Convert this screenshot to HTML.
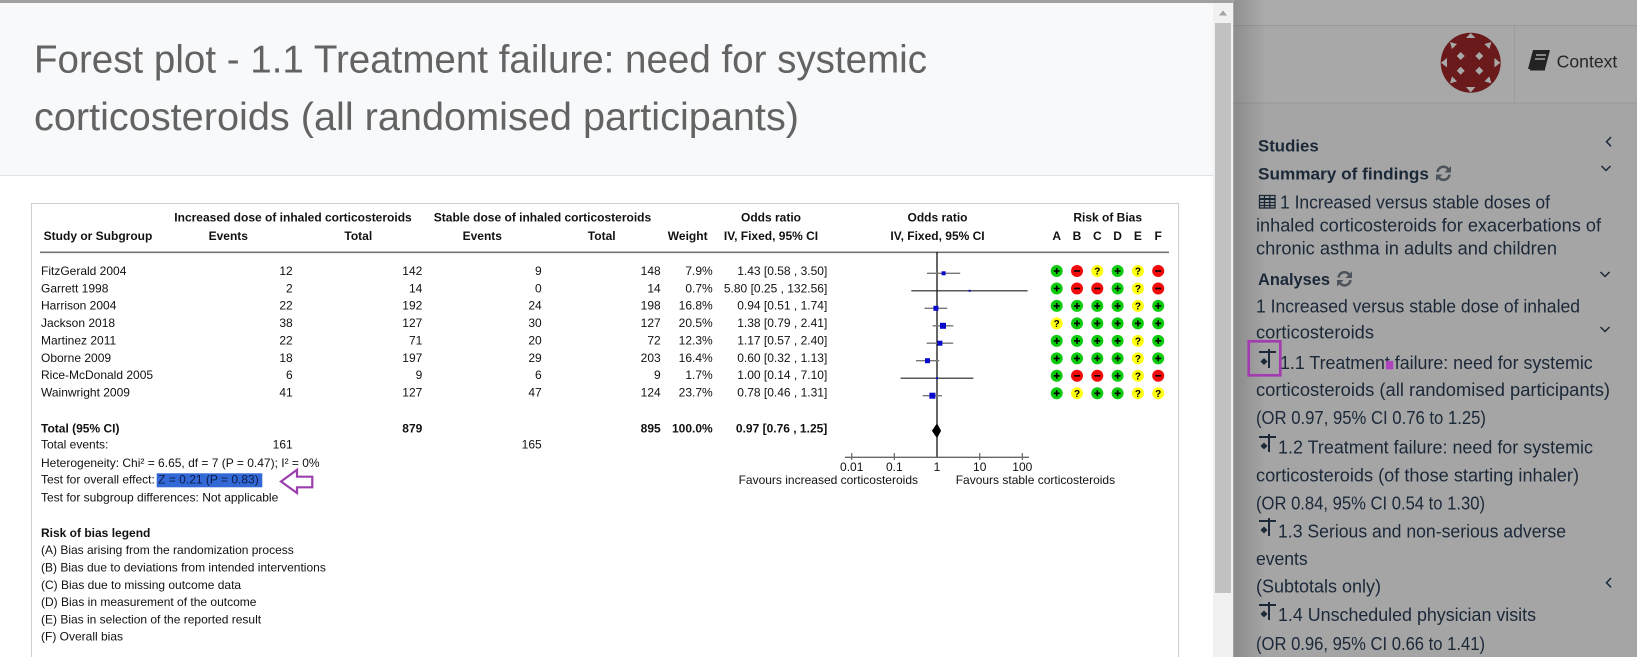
<!DOCTYPE html>
<html><head><meta charset="utf-8"><style>
html,body{margin:0;padding:0;width:1637px;height:657px;overflow:hidden;background:#fff}
svg{display:block}
text{font-family:"Liberation Sans",Arial,sans-serif}
</style></head><body>
<svg width="1637" height="657" viewBox="0 0 1637 657" xmlns="http://www.w3.org/2000/svg">
<defs>
<linearGradient id="sh" x1="0" x2="1" y1="0" y2="0">
<stop offset="0" stop-color="#000" stop-opacity="0.16"/><stop offset="1" stop-color="#000" stop-opacity="0"/>
</linearGradient>
<g id="G"><circle r="6" fill="#0ccb0c"/><path d="M-3 0H3M0 -3V3" stroke="#000" stroke-width="1.6"/></g>
<g id="R"><circle r="6" fill="#f00a0a"/><path d="M-3 0H3" stroke="#000" stroke-width="1.6"/></g>
<g id="Y"><circle r="6" fill="#ffff10"/></g>
</defs>

<!-- sidebar -->
<rect x="1233" y="0" width="404" height="657" fill="#a5a5a5"/>
<rect x="1233" y="0" width="404" height="25" fill="#ababab"/>
<rect x="1233" y="26" width="404" height="77" fill="#a8a8a8"/>
<line x1="1233" y1="25.5" x2="1637" y2="25.5" stroke="#9a9a9a"/>
<line x1="1233" y1="103" x2="1637" y2="103" stroke="#999"/>
<line x1="1514.5" y1="26" x2="1514.5" y2="103" stroke="#9c9c9c"/>
<rect x="1234" y="0" width="32" height="657" fill="url(#sh)"/>

<!-- logo -->
<circle cx="1470.7" cy="62.7" r="30" fill="#6a1a1a"/>
<g fill="#a8a8a8">
<polygon points="1460.7,52 1464.7,56 1460.7,60 1456.7,56"/>
<polygon points="1479.3,52 1483.3,56 1479.3,60 1475.3,56"/>
<polygon points="1460.7,66.7 1464.7,70.7 1460.7,74.7 1456.7,70.7"/>
<polygon points="1479.3,66.7 1483.3,70.7 1479.3,74.7 1475.3,70.7"/>
<polygon points="1470.7,33 1466,38 1475.4,38"/>
<polygon points="1470.7,92.4 1466,87 1475.4,87"/>
<polygon points="1441,62.7 1447,58 1447,67.4"/>
<polygon points="1500.4,62.7 1494.4,58 1494.4,67.4"/>
<polygon points="1450,42 1457,44 1452,49"/>
<polygon points="1491.4,42 1484.4,44 1489.4,49"/>
<polygon points="1450,83.4 1457,81.4 1452,76.4"/>
<polygon points="1491.4,83.4 1484.4,81.4 1489.4,76.4"/>
</g>
<!-- book icon -->
<polygon points="1533,50 1550,50 1545,69 1528,69" fill="#232323"/>
<line x1="1530" y1="69.5" x2="1545" y2="69.5" stroke="#232323" stroke-width="2"/>
<line x1="1536" y1="55" x2="1546" y2="55" stroke="#a8a8a8" stroke-width="1.5"/>
<line x1="1535" y1="59" x2="1545" y2="59" stroke="#a8a8a8" stroke-width="1.5"/>
<text x="1556.7" y="67.7" font-size="17.5" fill="#262626" textLength="60.6" lengthAdjust="spacingAndGlyphs">Context</text>

<!-- sidebar text -->
<g fill="#1b2838" font-size="18">
<text x="1258" y="151.7" font-weight="bold" font-size="17" textLength="60.7" lengthAdjust="spacingAndGlyphs">Studies</text>
<text x="1258" y="179.3" font-weight="bold" font-size="17" textLength="171" lengthAdjust="spacingAndGlyphs">Summary of findings</text>
<text x="1280" y="208.3" textLength="270" lengthAdjust="spacingAndGlyphs">1 Increased versus stable doses of</text>
<text x="1256" y="231.7" textLength="345" lengthAdjust="spacingAndGlyphs">inhaled corticosteroids for exacerbations of</text>
<text x="1256" y="254.3" textLength="301" lengthAdjust="spacingAndGlyphs">chronic asthma in adults and children</text>
<text x="1258" y="285" font-weight="bold" font-size="17" textLength="72" lengthAdjust="spacingAndGlyphs">Analyses</text>
<text x="1256" y="312.3" textLength="324" lengthAdjust="spacingAndGlyphs">1 Increased versus stable dose of inhaled</text>
<text x="1256" y="338.3" textLength="118" lengthAdjust="spacingAndGlyphs">corticosteroids</text>
<text x="1280" y="369" textLength="312.7" lengthAdjust="spacingAndGlyphs">1.1 Treatment failure: need for systemic</text>
<text x="1256" y="396" textLength="354" lengthAdjust="spacingAndGlyphs">corticosteroids (all randomised participants)</text>
<text x="1256" y="424" textLength="230" lengthAdjust="spacingAndGlyphs">(OR 0.97, 95% CI 0.76 to 1.25)</text>
<text x="1278" y="453.3" textLength="315" lengthAdjust="spacingAndGlyphs">1.2 Treatment failure: need for systemic</text>
<text x="1256" y="481.7" textLength="323" lengthAdjust="spacingAndGlyphs">corticosteroids (of those starting inhaler)</text>
<text x="1256" y="509.3" textLength="229" lengthAdjust="spacingAndGlyphs">(OR 0.84, 95% CI 0.54 to 1.30)</text>
<text x="1278" y="537.3" textLength="288" lengthAdjust="spacingAndGlyphs">1.3 Serious and non-serious adverse</text>
<text x="1256" y="565" textLength="51.7" lengthAdjust="spacingAndGlyphs">events</text>
<text x="1256" y="592.7" textLength="125" lengthAdjust="spacingAndGlyphs">(Subtotals only)</text>
<text x="1278" y="621" textLength="258" lengthAdjust="spacingAndGlyphs">1.4 Unscheduled physician visits</text>
<text x="1256" y="650" textLength="229" lengthAdjust="spacingAndGlyphs">(OR 0.96, 95% CI 0.66 to 1.41)</text>
</g>
<!-- table icon -->
<g stroke="#1b2838" fill="none" stroke-width="1.3">
<rect x="1259.5" y="195.5" width="15.5" height="12.5"/>
<line x1="1259.5" y1="199" x2="1275" y2="199" stroke-width="2"/>
<line x1="1259.5" y1="202.5" x2="1275" y2="202.5"/>
<line x1="1259.5" y1="205.5" x2="1275" y2="205.5"/>
<line x1="1264.5" y1="195.5" x2="1264.5" y2="208"/>
<line x1="1269.8" y1="195.5" x2="1269.8" y2="208"/>
</g>
<!-- refresh icons -->
<g stroke="#4d535b" fill="none" stroke-width="2.6">
<path d="M1437.5 172 A6 6 0 0 1 1448.5 169.5"/>
<path d="M1449.5 174.6 A6 6 0 0 1 1438.5 177.1"/>
<path d="M1338.5 277.5 A6 6 0 0 1 1349.5 275"/>
<path d="M1350.5 280.1 A6 6 0 0 1 1339.5 282.6"/>
</g>
<g fill="#4d535b">
<polygon points="1451,166 1451,172.5 1444.5,172.5"/>
<polygon points="1436,181 1436,174.5 1442.5,174.5"/>
<polygon points="1352,271.5 1352,278 1345.5,278"/>
<polygon points="1337,286.5 1337,280 1343.5,280"/>
</g>
<!-- chevrons -->
<g stroke="#1b2838" fill="none" stroke-width="1.5">
<polyline points="1611,137 1606.5,141.7 1611,146.4"/>
<polyline points="1601.5,166 1606,170.5 1610.5,166"/>
<polyline points="1600.5,272 1605,276.5 1609.5,272"/>
<polyline points="1600.5,327 1605,331.5 1609.5,327"/>
<polyline points="1611,578 1606.5,582.7 1611,587.4"/>
</g>
<!-- forest icons -->
<g stroke="#1b2838" stroke-width="2" fill="#1b2838">
<line x1="1259" y1="352" x2="1276" y2="352"/><line x1="1269" y1="349" x2="1269" y2="368"/><polygon points="1264,358 1267.5,361.5 1264,365 1260.5,361.5" stroke="none"/>
<line x1="1259" y1="437" x2="1276" y2="437"/><line x1="1269" y1="434" x2="1269" y2="452"/><polygon points="1264,442.5 1267.5,446 1264,449.5 1260.5,446" stroke="none"/>
<line x1="1259" y1="521" x2="1276" y2="521"/><line x1="1269" y1="518" x2="1269" y2="536"/><polygon points="1264,526.5 1267.5,530 1264,533.5 1260.5,530" stroke="none"/>
<line x1="1259" y1="605" x2="1276" y2="605"/><line x1="1269" y1="602" x2="1269" y2="620"/><polygon points="1264,610.5 1267.5,614 1264,617.5 1260.5,614" stroke="none"/>
</g>
<rect x="1248.7" y="341.3" width="31.6" height="34" fill="none" stroke="#a23cb0" stroke-width="2.7"/>
<rect x="1386" y="361" width="7.3" height="8.3" fill="#b044bf"/>

<!-- modal -->
<rect x="0" y="0" width="1233" height="657" fill="#fff"/>
<rect x="0" y="0" width="1233" height="3" fill="#a0a0a0"/>
<rect x="0" y="3" width="1213" height="172" fill="#f8f9fa"/>
<line x1="0" y1="175.5" x2="1213" y2="175.5" stroke="#dee2e6"/>
<rect x="1213" y="3" width="20" height="654" fill="#f1f1f1"/>
<rect x="1215" y="23" width="16" height="570" fill="#c1c1c1"/>
<polygon points="1219,15.5 1227,15.5 1223,10.5" fill="#a3a3a3"/>

<text x="34" y="72.7" font-size="38.5" fill="#636363" textLength="893" lengthAdjust="spacingAndGlyphs">Forest plot - 1.1 Treatment failure: need for systemic</text>
<text x="34" y="130" font-size="38.5" fill="#636363" textLength="765" lengthAdjust="spacingAndGlyphs">corticosteroids (all randomised participants)</text>

<!-- forest box -->
<rect x="31.5" y="203.5" width="1147" height="470" fill="none" stroke="#cfcfcf"/>
<line x1="40" y1="252.3" x2="1169" y2="252.3" stroke="#777" stroke-width="1.6"/>

<g font-size="12" fill="#111">
<g font-weight="bold" text-anchor="middle">
<text x="293" y="221.3">Increased dose of inhaled corticosteroids</text>
<text x="542.5" y="221.3">Stable dose of inhaled corticosteroids</text>
<text x="771" y="221.3">Odds ratio</text>
<text x="937.5" y="221.3">Odds ratio</text>
<text x="1107.7" y="221.3">Risk of Bias</text>
<text x="228.3" y="240">Events</text>
<text x="358.3" y="240">Total</text>
<text x="482.3" y="240">Events</text>
<text x="601.7" y="240">Total</text>
<text x="687.7" y="240">Weight</text>
<text x="771" y="240">IV, Fixed, 95% CI</text>
<text x="937.5" y="240">IV, Fixed, 95% CI</text>
<text x="1056.7" y="240">A</text>
<text x="1077" y="240">B</text>
<text x="1097.3" y="240">C</text>
<text x="1117.6" y="240">D</text>
<text x="1137.9" y="240">E</text>
<text x="1158.2" y="240">F</text>
<text x="98" y="240" text-anchor="middle">Study or Subgroup</text>
</g>

<g>
<text x="41" y="275">FitzGerald 2004</text>
<text x="41" y="292.35">Garrett 1998</text>
<text x="41" y="309.7">Harrison 2004</text>
<text x="41" y="327.05">Jackson 2018</text>
<text x="41" y="344.4">Martinez 2011</text>
<text x="41" y="361.75">Oborne 2009</text>
<text x="41" y="379.1">Rice-McDonald 2005</text>
<text x="41" y="396.45">Wainwright 2009</text>
</g>
<g text-anchor="end">
<text x="292.7" y="275">12</text><text x="422.3" y="275">142</text><text x="541.7" y="275">9</text><text x="660.7" y="275">148</text><text x="712.7" y="275">7.9%</text><text x="827.3" y="275">1.43 [0.58 , 3.50]</text>
<text x="292.7" y="292.35">2</text><text x="422.3" y="292.35">14</text><text x="541.7" y="292.35">0</text><text x="660.7" y="292.35">14</text><text x="712.7" y="292.35">0.7%</text><text x="827.3" y="292.35">5.80 [0.25 , 132.56]</text>
<text x="292.7" y="309.7">22</text><text x="422.3" y="309.7">192</text><text x="541.7" y="309.7">24</text><text x="660.7" y="309.7">198</text><text x="712.7" y="309.7">16.8%</text><text x="827.3" y="309.7">0.94 [0.51 , 1.74]</text>
<text x="292.7" y="327.05">38</text><text x="422.3" y="327.05">127</text><text x="541.7" y="327.05">30</text><text x="660.7" y="327.05">127</text><text x="712.7" y="327.05">20.5%</text><text x="827.3" y="327.05">1.38 [0.79 , 2.41]</text>
<text x="292.7" y="344.4">22</text><text x="422.3" y="344.4">71</text><text x="541.7" y="344.4">20</text><text x="660.7" y="344.4">72</text><text x="712.7" y="344.4">12.3%</text><text x="827.3" y="344.4">1.17 [0.57 , 2.40]</text>
<text x="292.7" y="361.75">18</text><text x="422.3" y="361.75">197</text><text x="541.7" y="361.75">29</text><text x="660.7" y="361.75">203</text><text x="712.7" y="361.75">16.4%</text><text x="827.3" y="361.75">0.60 [0.32 , 1.13]</text>
<text x="292.7" y="379.1">6</text><text x="422.3" y="379.1">9</text><text x="541.7" y="379.1">6</text><text x="660.7" y="379.1">9</text><text x="712.7" y="379.1">1.7%</text><text x="827.3" y="379.1">1.00 [0.14 , 7.10]</text>
<text x="292.7" y="396.45">41</text><text x="422.3" y="396.45">127</text><text x="541.7" y="396.45">47</text><text x="660.7" y="396.45">124</text><text x="712.7" y="396.45">23.7%</text><text x="827.3" y="396.45">0.78 [0.46 , 1.31]</text>
<g font-weight="bold">
<text x="422.3" y="432.6">879</text><text x="660.7" y="432.6">895</text><text x="712.7" y="432.6">100.0%</text><text x="827.3" y="432.6">0.97 [0.76 , 1.25]</text>
</g>
<text x="292.7" y="448.7">161</text>
<text x="541.7" y="448.7">165</text>
<text x="918" y="484">Favours increased corticosteroids</text>
</g>
<text x="41" y="432.6" font-weight="bold">Total (95% CI)</text>
<text x="41" y="448.7">Total events:</text>
<text x="41" y="467">Heterogeneity: Chi² = 6.65, df = 7 (P = 0.47); I² = 0%</text>
<rect x="156.7" y="473.3" width="105.6" height="14" fill="#3269d6"/>
<text x="41" y="483.6">Test for overall effect:<tspan fill="#0b1a44"> Z = 0.21 (P = 0.83)</tspan></text>
<text x="41" y="501.4">Test for subgroup differences: Not applicable</text>
<text x="41" y="536.8" font-weight="bold">Risk of bias legend</text>
<text x="41" y="554.2">(A) Bias arising from the randomization process</text>
<text x="41" y="571.5">(B) Bias due to deviations from intended interventions</text>
<text x="41" y="588.8">(C) Bias due to missing outcome data</text>
<text x="41" y="606.1">(D) Bias in measurement of the outcome</text>
<text x="41" y="623.4">(E) Bias in selection of the reported result</text>
<text x="41" y="640.7">(F) Overall bias</text>
<text x="955.7" y="484">Favours stable corticosteroids</text>
<g text-anchor="middle">
<text x="851.7" y="471">0.01</text><text x="894.3" y="471">0.1</text><text x="937" y="471">1</text><text x="979.7" y="471">10</text><text x="1022.3" y="471">100</text>
</g>
</g>

<!-- purple arrow -->
<polygon points="281,481.5 297,469.8 297,476.7 312.3,476.7 312.3,487.3 297,487.3 297,493 " fill="#fff" stroke="#9b3fae" stroke-width="2.2" stroke-linejoin="miter"/>

<!-- forest plot graphics -->
<line x1="937" y1="252" x2="937" y2="457.5" stroke="#000" stroke-width="1.2"/>
<line x1="845" y1="457.3" x2="1029" y2="457.3" stroke="#666" stroke-width="1.3"/>
<g stroke="#666" stroke-width="1.2">
<line x1="851.7" y1="453" x2="851.7" y2="460"/><line x1="894.3" y1="453" x2="894.3" y2="460"/><line x1="979.7" y1="453" x2="979.7" y2="460"/><line x1="1022.3" y1="453" x2="1022.3" y2="460"/>
</g>
<g stroke="#777" stroke-width="1.4">
<line x1="926.9" y1="273.3" x2="960.2" y2="273.3"/>
<line x1="924.5" y1="308.3" x2="947.3" y2="308.3"/>
<line x1="932.6" y1="325.8" x2="953.3" y2="325.8"/>
<line x1="926.6" y1="343.2" x2="953.2" y2="343.2"/>
<line x1="915.9" y1="360.7" x2="939.3" y2="360.7"/>
<line x1="922.6" y1="395.7" x2="942" y2="395.7"/>
</g>
<g stroke="#222" stroke-width="1.1">
<line x1="911.3" y1="290.8" x2="1027.6" y2="290.8"/>
<line x1="900.6" y1="378.2" x2="973.3" y2="378.2"/>
</g>
<g fill="#0a0acc">
<rect x="941.6" y="271.3" width="4" height="4"/>
<rect x="968.6" y="289.8" width="2" height="2"/>
<rect x="933.4" y="305.8" width="5" height="5"/>
<rect x="940" y="322.8" width="6" height="6"/>
<rect x="937.4" y="340.7" width="5" height="5"/>
<rect x="925" y="358.2" width="5" height="5"/>
<rect x="936" y="377.2" width="2" height="2"/>
<rect x="929.4" y="392.7" width="6" height="6"/>
</g>
<polygon points="931.9,430.8 937,423.3 941.1,430.8 937,438.3" fill="#000"/>

<!-- risk of bias circles -->
<use href="#G" x="1056.7" y="271"/><use href="#R" x="1077" y="271"/><use href="#Y" x="1097.3" y="271"/><use href="#G" x="1117.6" y="271"/><use href="#Y" x="1137.9" y="271"/><use href="#R" x="1158.2" y="271"/>
<use href="#G" x="1056.7" y="288.5"/><use href="#R" x="1077" y="288.5"/><use href="#R" x="1097.3" y="288.5"/><use href="#G" x="1117.6" y="288.5"/><use href="#Y" x="1137.9" y="288.5"/><use href="#R" x="1158.2" y="288.5"/>
<use href="#G" x="1056.7" y="305.9"/><use href="#G" x="1077" y="305.9"/><use href="#G" x="1097.3" y="305.9"/><use href="#G" x="1117.6" y="305.9"/><use href="#Y" x="1137.9" y="305.9"/><use href="#G" x="1158.2" y="305.9"/>
<use href="#Y" x="1056.7" y="323.4"/><use href="#G" x="1077" y="323.4"/><use href="#G" x="1097.3" y="323.4"/><use href="#G" x="1117.6" y="323.4"/><use href="#G" x="1137.9" y="323.4"/><use href="#G" x="1158.2" y="323.4"/>
<use href="#G" x="1056.7" y="340.9"/><use href="#G" x="1077" y="340.9"/><use href="#G" x="1097.3" y="340.9"/><use href="#G" x="1117.6" y="340.9"/><use href="#Y" x="1137.9" y="340.9"/><use href="#G" x="1158.2" y="340.9"/>
<use href="#G" x="1056.7" y="358.4"/><use href="#G" x="1077" y="358.4"/><use href="#G" x="1097.3" y="358.4"/><use href="#G" x="1117.6" y="358.4"/><use href="#Y" x="1137.9" y="358.4"/><use href="#G" x="1158.2" y="358.4"/>
<use href="#G" x="1056.7" y="375.8"/><use href="#R" x="1077" y="375.8"/><use href="#R" x="1097.3" y="375.8"/><use href="#G" x="1117.6" y="375.8"/><use href="#Y" x="1137.9" y="375.8"/><use href="#R" x="1158.2" y="375.8"/>
<use href="#G" x="1056.7" y="393.3"/><use href="#Y" x="1077" y="393.3"/><use href="#G" x="1097.3" y="393.3"/><use href="#G" x="1117.6" y="393.3"/><use href="#Y" x="1137.9" y="393.3"/><use href="#Y" x="1158.2" y="393.3"/>
<g font-size="10" font-weight="bold" fill="#000" text-anchor="middle">
<text x="1097.3" y="274.6">?</text><text x="1137.9" y="274.6">?</text>
<text x="1137.9" y="292.1">?</text>
<text x="1137.9" y="309.5">?</text>
<text x="1056.7" y="327">?</text>
<text x="1137.9" y="344.5">?</text>
<text x="1137.9" y="362">?</text>
<text x="1137.9" y="379.4">?</text>
<text x="1077" y="396.9">?</text><text x="1137.9" y="396.9">?</text><text x="1158.2" y="396.9">?</text>
</g>
</svg>
</body></html>
